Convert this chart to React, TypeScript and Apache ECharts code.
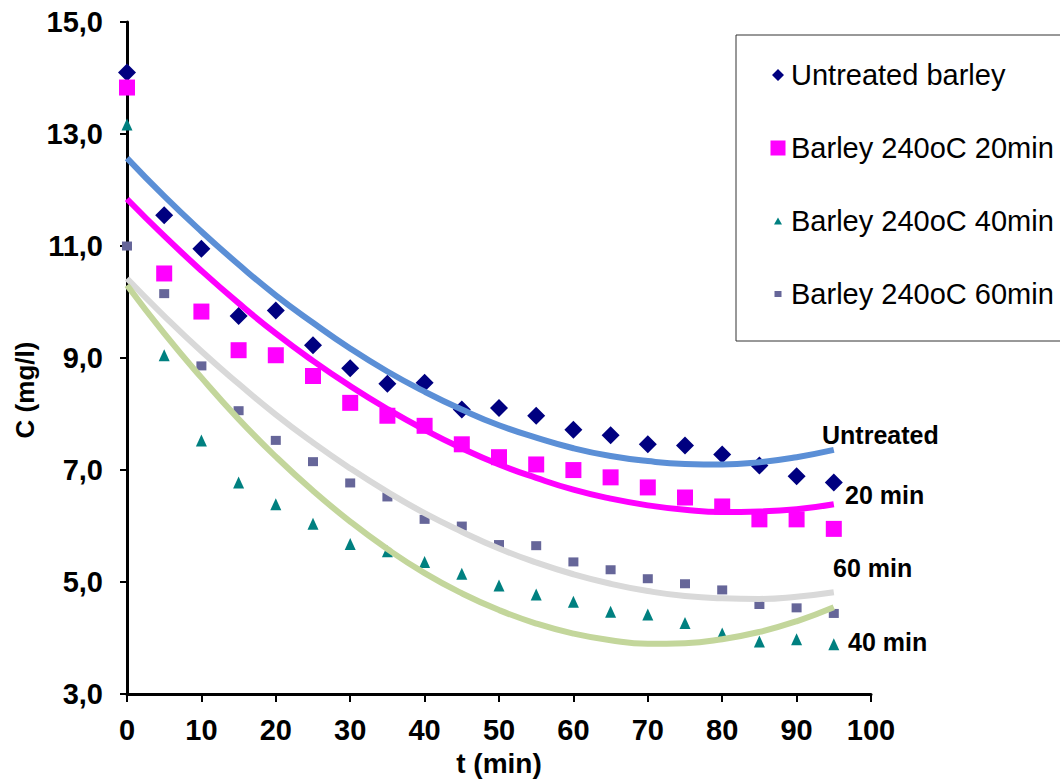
import React, { useEffect, useRef } from "react";
import * as echarts from "echarts";

// time points (min)
const tValues = [0, 5, 10, 15, 20, 25, 30, 35, 40, 45, 50, 55, 60, 65, 70, 75, 80, 85, 90, 95];

// measured concentrations (mg/l)
const untreated = [14.1, 11.55, 10.95, 9.75, 9.85, 9.23, 8.82, 8.54, 8.56, 8.08, 8.11, 7.97, 7.72, 7.62, 7.46, 7.44, 7.28, 7.08, 6.89, 6.78];
const barley20 = [13.83, 10.51, 9.83, 9.14, 9.05, 8.68, 8.2, 7.97, 7.79, 7.46, 7.23, 7.1, 7.0, 6.87, 6.69, 6.51, 6.35, 6.12, 6.12, 5.95];
const barley40 = [13.17, 9.05, 7.53, 6.78, 6.39, 6.04, 5.68, 5.55, 5.36, 5.15, 4.94, 4.78, 4.65, 4.47, 4.42, 4.27, 4.08, 3.94, 3.98, 3.89];
const barley60 = [11.0, 10.15, 8.86, 8.06, 7.53, 7.15, 6.77, 6.52, 6.12, 6.0, 5.67, 5.65, 5.36, 5.22, 5.06, 4.97, 4.86, 4.6, 4.54, 4.44];

// trend-line values
const trendUntreated = [12.57, 11.89, 11.26, 10.67, 10.12, 9.63, 9.17, 8.76, 8.4, 8.08, 7.8, 7.58, 7.39, 7.25, 7.16, 7.11, 7.1, 7.14, 7.23, 7.36];
const trend20 = [11.84, 11.18, 10.56, 9.98, 9.44, 8.95, 8.5, 8.09, 7.72, 7.39, 7.1, 6.86, 6.65, 6.49, 6.37, 6.29, 6.25, 6.26, 6.3, 6.39];
const trend60 = [10.42, 9.75, 9.12, 8.54, 7.99, 7.49, 7.03, 6.61, 6.23, 5.9, 5.6, 5.35, 5.14, 4.97, 4.84, 4.75, 4.71, 4.7, 4.74, 4.82];
const trend40 = [10.3, 9.44, 8.65, 7.91, 7.24, 6.63, 6.08, 5.59, 5.16, 4.8, 4.5, 4.26, 4.08, 3.96, 3.9, 3.91, 3.98, 4.11, 4.3, 4.55];

const seriesNames = ["Untreated barley", "Barley 240oC 20min", "Barley 240oC 40min", "Barley 240oC 60min"];
const trendLabels = ["Untreated", "20 min", "60 min", "40 min"];
const xTicks = { min: 0, max: 100, interval: 10 };
const yTicks = { min: 3, max: 15, interval: 2 };

const pairs = (vals: number[]) => vals.map((v, i) => [tValues[i], v]);
const FONT = "'Liberation Sans', Arial, Helvetica, sans-serif";

export default function App() {
  const ref = useRef<HTMLDivElement>(null);
  useEffect(() => {
    if (!ref.current) return;
    const chart = echarts.init(ref.current, null, { renderer: "svg" });
    const scatterBase = { type: "scatter" as const, z: 3 };
    const lineBase = { type: "line" as const, smooth: true, symbol: "none", z: 4, silent: true };
    chart.setOption({
      animation: false,
      backgroundColor: "#ffffff",
      grid: { left: 127, top: 22, width: 744, height: 676, containLabel: false },
      xAxis: {
        type: "value",
        min: xTicks.min,
        max: xTicks.max,
        interval: xTicks.interval,
        name: "t (min)",
        nameLocation: "middle",
        nameGap: 52,
        nameTextStyle: { fontSize: 28, fontWeight: "bold", fontFamily: FONT, color: "#000" },
        axisLine: { show: true, lineStyle: { color: "#000", width: 3 } },
        axisTick: { show: true, length: 8, lineStyle: { color: "#000", width: 2 } },
        axisLabel: { fontSize: 29, fontWeight: "bold", fontFamily: FONT, color: "#000", margin: 21 },
        splitLine: { show: false },
      },
      yAxis: {
        type: "value",
        min: yTicks.min,
        max: yTicks.max,
        interval: yTicks.interval,
        axisLine: { show: true, lineStyle: { color: "#000", width: 3 } },
        axisTick: { show: true, length: 7, lineStyle: { color: "#000", width: 2 } },
        axisLabel: {
          fontSize: 29,
          fontWeight: "bold",
          fontFamily: FONT,
          color: "#000",
          margin: 24,
          formatter: (v: number) => v.toFixed(1).replace(".", ","),
        },
        splitLine: { show: false },
      },
      legend: {
        orient: "vertical",
        left: 736,
        top: 35,
        padding: [25, 40, 32, 34],
        itemGap: 43,
        itemWidth: 16,
        itemHeight: 16,
        borderColor: "#333",
        borderWidth: 1,
        textStyle: { fontSize: 29, fontFamily: FONT, color: "#000", lineHeight: 30 },
        data: [
          { name: seriesNames[0], icon: "path://M0,0L0.001,0ZM16,16L15.999,16ZM8,2L14,8L8,14L2,8Z" },
          { name: seriesNames[1], icon: "path://M0,0L0.001,0ZM16,16L15.999,16ZM0.5,0.5L15.5,0.5L15.5,15.5L0.5,15.5Z" },
          { name: seriesNames[2], icon: "path://M0,0L0.001,0ZM16,16L15.999,16ZM8,4.5L12,11.5L4,11.5Z" },
          { name: seriesNames[3], icon: "path://M0,0L0.001,0ZM16,16L15.999,16ZM4.5,5L11.5,5L11.5,11L4.5,11Z" },
        ],
      },
      series: [
        { ...scatterBase, name: seriesNames[0], symbol: "diamond", symbolSize: 18, itemStyle: { color: "#000080", opacity: 1 }, data: pairs(untreated) },
        { ...scatterBase, name: seriesNames[1], symbol: "rect", symbolSize: 16, itemStyle: { color: "#FF00FF", opacity: 1 }, data: pairs(barley20) },
        { ...scatterBase, name: seriesNames[2], symbol: "triangle", symbolSize: [11, 12], itemStyle: { color: "#008080", opacity: 1 }, data: pairs(barley40) },
        { ...scatterBase, name: seriesNames[3], symbol: "rect", symbolSize: [10, 9], itemStyle: { color: "#666699", opacity: 1 }, data: pairs(barley60) },
        { ...lineBase, name: "trend-untreated", lineStyle: { color: "#5B8FD6", width: 6 }, itemStyle: { color: "#5B8FD6" }, data: pairs(trendUntreated) },
        { ...lineBase, name: "trend-20", lineStyle: { color: "#FF00FF", width: 6 }, itemStyle: { color: "#FF00FF" }, data: pairs(trend20) },
        { ...lineBase, name: "trend-60", lineStyle: { color: "#D9D9D9", width: 6 }, itemStyle: { color: "#D9D9D9" }, data: pairs(trend60) },
        { ...lineBase, name: "trend-40", lineStyle: { color: "#C3D69B", width: 6 }, itemStyle: { color: "#C3D69B" }, data: pairs(trend40) },
      ],
      graphic: [
        {
          type: "text",
          x: 25,
          y: 390,
          rotation: Math.PI / 2,
          style: { text: "C (mg/l)", fontSize: 26, fontWeight: "bold", fontFamily: FONT, fill: "#000", align: "center", verticalAlign: "middle" },
        },
        { type: "text", x: 822, y: 435, style: { text: trendLabels[0], fontSize: 25, fontWeight: "bold", fontFamily: FONT, fill: "#000", align: "left", verticalAlign: "middle" } },
        { type: "text", x: 845, y: 495, style: { text: trendLabels[1], fontSize: 25, fontWeight: "bold", fontFamily: FONT, fill: "#000", align: "left", verticalAlign: "middle" } },
        { type: "text", x: 833, y: 568, style: { text: trendLabels[2], fontSize: 25, fontWeight: "bold", fontFamily: FONT, fill: "#000", align: "left", verticalAlign: "middle" } },
        { type: "text", x: 848, y: 642, style: { text: trendLabels[3], fontSize: 25, fontWeight: "bold", fontFamily: FONT, fill: "#000", align: "left", verticalAlign: "middle" } },
      ],
    });
    return () => chart.dispose();
  }, []);
  return <div ref={ref} style={{ position: "fixed", left: 0, top: 0, width: 1060, height: 782 }} />;
}
